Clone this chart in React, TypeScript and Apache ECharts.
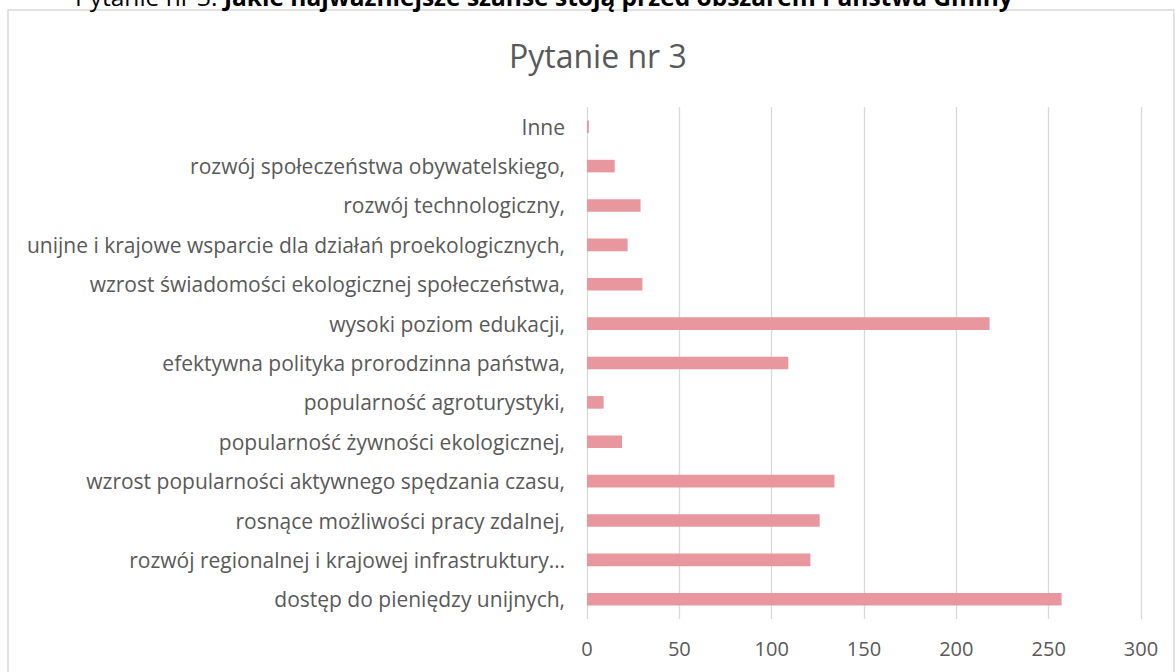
import React, { useEffect, useRef } from "react";
import * as echarts from "echarts";

// Categories listed bottom-to-top (ECharts category axis grows upwards)
const categories: string[] = [
  "dostęp do pieniędzy unijnych,",
  "rozwój regionalnej i krajowej infrastruktury…",
  "rosnące możliwości pracy zdalnej,",
  "wzrost popularności aktywnego spędzania czasu,",
  "popularność żywności ekologicznej,",
  "popularność agroturystyki,",
  "efektywna polityka prorodzinna państwa,",
  "wysoki poziom edukacji,",
  "wzrost świadomości ekologicznej społeczeństwa,",
  "unijne i krajowe wsparcie dla działań proekologicznych,",
  "rozwój technologiczny,",
  "rozwój społeczeństwa obywatelskiego,",
  "Inne",
];

const values: number[] = [257, 121, 126, 134, 19, 9, 109, 218, 30, 22, 29, 15, 1];

const chartTitle = "Pytanie nr 3";
const headingPrefix = "Pytanie nr 3: ";
const headingBold = "Jakie najważniejsze szanse stoją przed obszarem Państwa Gminy";

const xMin = 0;
const xMax = 300;
const xInterval = 50;

export default function App() {
  const ref = useRef<HTMLDivElement>(null);

  useEffect(() => {
    document.body.style.margin = "0";
    if (!ref.current) return;
    const chart = echarts.init(ref.current, null, { renderer: "svg" });
    const font = "'Open Sans', 'Noto Sans', sans-serif";
    chart.setOption({
      animation: false,
      backgroundColor: "#ffffff",
      title: {
        text: chartTitle,
        left: 504,
        top: 34,
        textStyle: {
          fontFamily: font,
          fontSize: 32,
          fontWeight: "normal",
          color: "#595959",
        },
      },
      grid: {
        left: 587,
        right: 34,
        top: 107,
        bottom: 53,
        containLabel: false,
      },
      xAxis: {
        type: "value",
        min: xMin,
        max: xMax,
        interval: xInterval,
        axisLine: { show: false },
        axisTick: { show: false },
        splitLine: { show: true, lineStyle: { color: "#d9d9d9", width: 1.3 } },
        axisLabel: {
          color: "#595959",
          fontFamily: font,
          fontSize: 20,
          margin: 19,
        },
      },
      yAxis: {
        type: "category",
        data: categories,
        axisLine: { show: false },
        axisTick: { show: false },
        splitLine: { show: false },
        axisLabel: {
          color: "#595959",
          fontFamily: font,
          fontSize: 21,
          margin: 22,
        },
      },
      series: [
        {
          type: "bar",
          data: values,
          barWidth: "32%",
          itemStyle: { color: "#e8979f" },
        },
      ],
      graphic: [
        {
          type: "rect",
          shape: { x: 8, y: 10, width: 1166, height: 700 },
          style: { fill: "none", stroke: "#d9d9d9", lineWidth: 1.5 },
          z: -10,
          silent: true,
        },
        {
          type: "text",
          x: 75,
          y: -4,
          style: {
            text: "{n|" + headingPrefix + "}{b|" + headingBold + "}",
            verticalAlign: "middle",
            rich: {
              n: { fontFamily: font, fontSize: 24.5, color: "#000000" },
              b: { fontFamily: font, fontSize: 24.5, fontWeight: "bold", color: "#000000" },
            },
          },
          silent: true,
        },
      ],
    });
    return () => chart.dispose();
  }, []);

  return (
    <div
      ref={ref}
      style={{ position: "absolute", left: 0, top: 0, width: 1175, height: 672 }}
    />
  );
}
